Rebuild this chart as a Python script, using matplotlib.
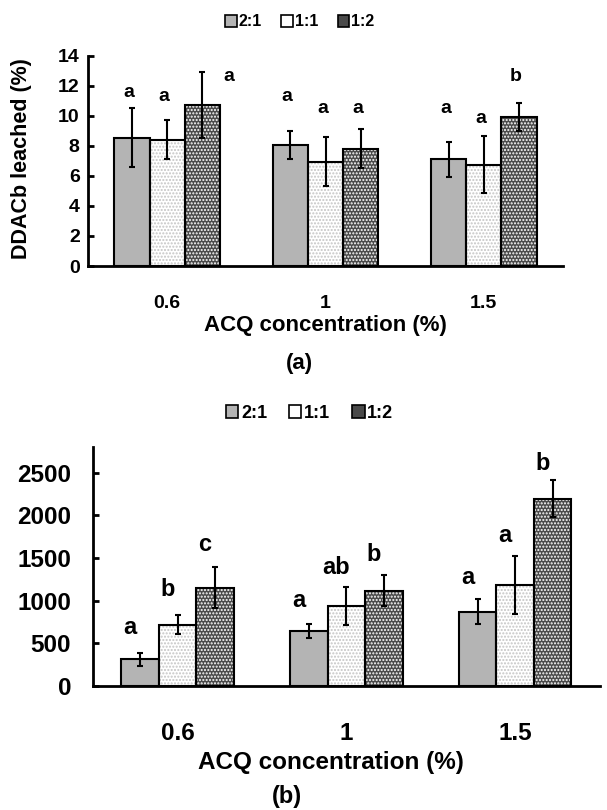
import matplotlib
matplotlib.use('Agg')
import matplotlib.pyplot as plt
from matplotlib.patches import Patch
import numpy as np

plt.rcParams.update({'font.family': 'Liberation Sans', 'font.weight': 'bold',
                     'hatch.linewidth': 1.0})

# data
conc = ['0.6', '1', '1.5']
ratios = ['2:1', '1:1', '1:2']

# (a) DDACb leached (%)
a_21 = [8.55, 8.05, 7.10]
a_11 = [8.40, 6.96, 6.75]
a_12 = [10.70, 7.82, 9.92]
a_21_err = [1.95, 0.95, 1.17]
a_11_err = [1.30, 1.65, 1.90]
a_12_err = [2.20, 1.32, 0.95]
a_letters = [['a', 'a', 'a'], ['a', 'a', 'a'], ['a', 'a', 'b']]
a_letter_y = [[11.55, 11.3, 10.5], [11.3, 10.5, 9.8], [12.6, 10.5, 12.6]]

# (b)
b_21 = [315, 645, 873]
b_11 = [720, 937, 1187]
b_12 = [1155, 1118, 2195]
b_21_err = [78, 78, 146]
b_11_err = [110, 224, 337]
b_12_err = [240, 180, 218]
b_letters = [['a', 'a', 'a'], ['b', 'ab', 'a'], ['c', 'b', 'b']]
b_letter_y = [[686, 1006, 1278], [1131, 1395, 1766], [1661, 1544, 2612]]

# bar styles: face, hatch, hatch colour
styles = [('#b4b4b4', None, None),
          ('white', '.....', '#c4c4c4'),
          ('#4a4a4a', '.....', 'white')]

W = 0.222
x = np.arange(len(conc))


def draw_panel(ax, means, errs, letters, letter_y, fs_tick, fs_let, dx_let, special=None):
    for i, (m, e) in enumerate(zip(means, errs)):
        fc, h, hc = styles[i]
        xs = x + (i - 1) * W
        if h:
            ax.bar(xs, m, W, color=fc, hatch=h, edgecolor=hc, lw=0, zorder=2)
            ax.bar(xs, m, W, fill=False, edgecolor='black', lw=1.5, zorder=3)
        else:
            ax.bar(xs, m, W, color=fc, edgecolor='black', lw=1.5, zorder=3)
        ax.errorbar(xs, m, yerr=e, fmt='none', ecolor='black', elinewidth=1.5,
                    capsize=2.5, capthick=1.5, zorder=4)
        for j in range(len(conc)):
            xt = xs[j] + dx_let
            if special is not None and special == (i, j):
                xt = xs[j] + 0.165
            ax.text(xt, letter_y[i][j], letters[i][j], ha='center', va='center',
                    fontsize=fs_let, fontweight='bold')
    ax.spines['top'].set_visible(False)
    ax.spines['right'].set_visible(False)
    ax.spines['left'].set_linewidth(2)
    ax.spines['bottom'].set_linewidth(2)
    ax.set_xticks(x)
    ax.set_xticklabels(conc)
    ax.tick_params(axis='y', direction='in', length=4, width=2, labelsize=fs_tick)
    ax.tick_params(axis='x', length=0, labelsize=fs_tick)
    ax.set_xlim(-0.5, 2.5)


fig = plt.figure(figsize=(6.07, 8.10), dpi=100)

# panel (a)
ax1 = fig.add_axes([0.145, 0.6716, 0.7825, 0.2593])
draw_panel(ax1, [a_21, a_11, a_12], [a_21_err, a_11_err, a_12_err],
           a_letters, a_letter_y, 14, 14, -0.02, special=(2, 0))
ax1.set_ylim(0, 14)
ax1.set_yticks(range(0, 15, 2))
ax1.tick_params(axis='x', pad=21)
ax1.tick_params(axis='y', pad=6)
ax1.set_ylabel('DDACb leached (%)', fontsize=15.5, fontweight='bold')
ax1.yaxis.set_label_coords(-0.118, 0.51)
fig.text(0.536, 1 - 325 / 810, 'ACQ concentration (%)', ha='center', va='center',
         fontsize=16, fontweight='bold')
fig.text(0.494, 1 - 363 / 810, '(a)', ha='center', va='center', fontsize=16, fontweight='bold')

handles = [Patch(facecolor=styles[i][0], edgecolor='black', hatch=None, lw=1.2)
           for i in range(3)]
fig.legend(handles, ratios, loc='center', bbox_to_anchor=(0.494, 1 - 22 / 810), ncol=3,
           frameon=False, fontsize=11.5, handlelength=0.7, handleheight=0.7,
           handletextpad=0.15, columnspacing=1.2)

# panel (b)
ax2 = fig.add_axes([0.1537, 0.153, 0.834, 0.295])
draw_panel(ax2, [b_21, b_11, b_12], [b_21_err, b_11_err, b_12_err],
           b_letters, b_letter_y, 17.5, 17, -0.06)
ax2.set_ylim(0, 2800)
ax2.set_yticks(range(0, 2501, 500))
ax2.tick_params(axis='x', pad=26)
ax2.tick_params(axis='y', pad=16)
fig.text(0.545, 1 - 762 / 810, 'ACQ concentration (%)', ha='center', va='center',
         fontsize=17.5, fontweight='bold')
fig.text(0.473, 1 - 796 / 810, '(b)', ha='center', va='center', fontsize=17, fontweight='bold')
fig.legend(handles, ratios, loc='center', bbox_to_anchor=(0.51, 1 - 413 / 810), ncol=3,
           frameon=False, fontsize=13, handlelength=0.7, handleheight=0.7,
           handletextpad=0.15, columnspacing=1.2)

fig.savefig('out.png', dpi=100)
